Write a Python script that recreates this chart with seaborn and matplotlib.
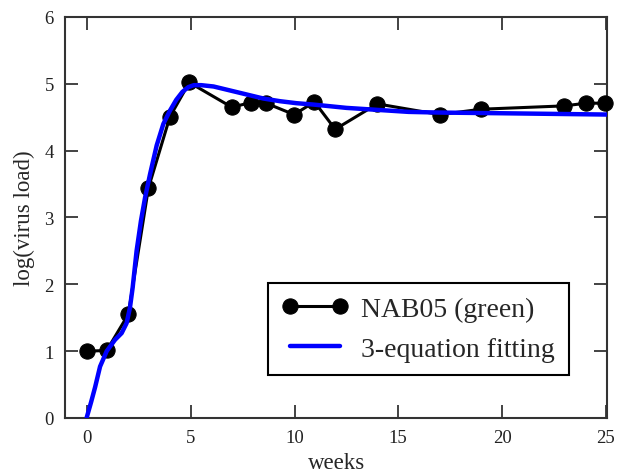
import numpy as np
import pandas as pd
import matplotlib
matplotlib.use("Agg")
import matplotlib.pyplot as plt
import seaborn as sns

# measured virus load, NAB05 (green)
weeks = [0, 0.95, 1.99, 2.96, 4.0, 4.93, 6.98, 7.9, 8.63, 9.98,
         10.96, 11.96, 13.99, 17.0, 19.0, 23.0, 24.05, 24.98]
log_load = [1.0, 1.01, 1.55, 3.44, 4.51, 5.02, 4.65, 4.72, 4.71, 4.54,
            4.73, 4.32, 4.70, 4.54, 4.62, 4.67, 4.71, 4.71]

# 3-equation fitting curve
fit_weeks = [-0.02, 0.2, 0.39, 0.63, 0.95, 1.35, 1.67, 1.91, 2.07, 2.2,
             2.39, 2.6, 2.8, 3.04, 3.36, 3.68, 4.0, 4.3, 4.6, 4.88,
             5.15, 5.5, 6.1, 6.9, 7.7, 8.5, 9.3, 10.1, 10.9, 12.5,
             14.0, 15.5, 17.0, 19.9, 22.5, 25.1]
fit_load = [0.0, 0.24, 0.46, 0.77, 1.0, 1.17, 1.27, 1.42, 1.65, 1.95,
            2.5, 2.95, 3.3, 3.65, 4.08, 4.4, 4.6, 4.76, 4.88, 4.95,
            4.98, 4.98, 4.96, 4.9, 4.84, 4.78, 4.74, 4.71, 4.69, 4.64,
            4.61, 4.58, 4.57, 4.56, 4.55, 4.54]

sns.set_style("ticks")
plt.rcParams["font.family"] = ["Liberation Serif", "DejaVu Serif"]

fig = plt.figure(figsize=(6.19, 4.77), dpi=100)
ax = fig.add_axes([0.105, 0.1216, 0.876, 0.8407])

sns.lineplot(x=weeks, y=log_load, ax=ax, color="black", linewidth=2.2,
             marker="o", markersize=11, markeredgecolor="black",
             label="NAB05 (green)", clip_on=False, zorder=3)
sns.lineplot(x=fit_weeks, y=fit_load, ax=ax, color="#0000ff", linewidth=3.2,
             label="3-equation fitting", zorder=4)

ax.set_xlim(-1.06, 25.07)
ax.set_ylim(0, 6)
ax.set_xticks([0, 5, 10, 15, 20, 25])
ax.set_yticks([0, 1, 2, 3, 4, 5, 6])
ax.set_xlabel("weeks", fontsize=16.5, labelpad=4)
ax.set_ylabel("log(virus load)", fontsize=16.5, labelpad=7)

ax.tick_params(direction="in", length=9.5, width=1.2, labelsize=13.5,
               top=True, right=True, colors="#222222", pad=8)
for sp in ax.spines.values():
    sp.set_visible(True)
    sp.set_linewidth(1.5)
    sp.set_color("#333333")

leg = ax.legend(loc="upper left", bbox_to_anchor=(0.3745, 0.337),
                borderaxespad=0, fontsize=20, frameon=True, fancybox=False,
                numpoints=2, handlelength=2.4, handletextpad=0.45,
                borderpad=0.5, labelspacing=0.5)
leg.get_frame().set_edgecolor("black")
leg.get_frame().set_linewidth(1.5)
leg.get_frame().set_alpha(1)

fig.savefig("out.png", dpi=100)
